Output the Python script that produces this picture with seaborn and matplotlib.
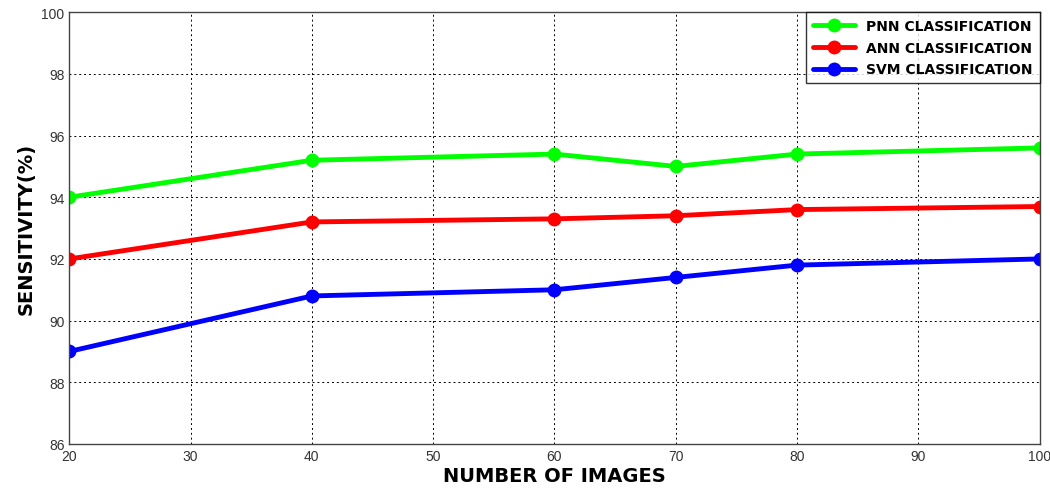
import matplotlib
matplotlib.use('Agg')
import matplotlib.pyplot as plt
import seaborn as sns
import pandas as pd

images = [20, 40, 60, 70, 80, 100]
pnn = [94.0, 95.2, 95.4, 95.0, 95.4, 95.6]
ann = [92.0, 93.2, 93.3, 93.4, 93.6, 93.7]
svm = [89.0, 90.8, 91.0, 91.4, 91.8, 92.0]
labels = ['PNN CLASSIFICATION', 'ANN CLASSIFICATION', 'SVM CLASSIFICATION']
colors = ['#00ff00', '#ff0000', '#0000ff']

sns.set_style('white')
plt.rcParams['font.family'] = ['Liberation Sans', 'DejaVu Sans']
plt.rcParams['text.color'] = 'black'
plt.rcParams['axes.labelcolor'] = 'black'

df = pd.DataFrame({'images': images * 3,
                   'sens': pnn + ann + svm,
                   'method': [labels[0]] * 6 + [labels[1]] * 6 + [labels[2]] * 6})

fig = plt.figure(figsize=(10.5, 4.89), dpi=100)
ax = fig.add_axes([0.066, 0.09, 0.924, 0.883])
sns.lineplot(data=df, x='images', y='sens', hue='method', palette=colors,
             marker='o', markersize=10, linewidth=3.5, markeredgewidth=0, ax=ax)

ax.set_xlim(20, 100)
ax.set_ylim(86, 100)
ax.set_xticks(range(20, 101, 10))
ax.set_yticks(range(86, 101, 2))
ax.grid(True, color='black', linestyle=(0, (2, 3)), linewidth=0.7)
for s in ax.spines.values():
    s.set_color('#444444')
    s.set_linewidth(1)
ax.tick_params(axis='both', labelsize=10, colors='#333333', direction='in', length=4)
ax.set_xlabel('NUMBER OF IMAGES', fontsize=14, fontweight='heavy',
              family='DejaVu Sans', labelpad=2, color='black')
ax.set_ylabel('SENSITIVITY(%)', fontsize=14, fontweight='heavy',
              family='DejaVu Sans', labelpad=4, color='black')

leg = ax.legend(loc='upper right', frameon=True, fancybox=False,
                prop={'family': 'DejaVu Sans', 'weight': 'bold', 'size': 10},
                borderaxespad=0, handlelength=3.0, labelspacing=0.55,
                borderpad=0.5)
leg.get_frame().set_edgecolor('black')
leg.get_frame().set_linewidth(1)
for t in leg.get_texts():
    t.set_color('black')

fig.savefig('out.png', dpi=100)
